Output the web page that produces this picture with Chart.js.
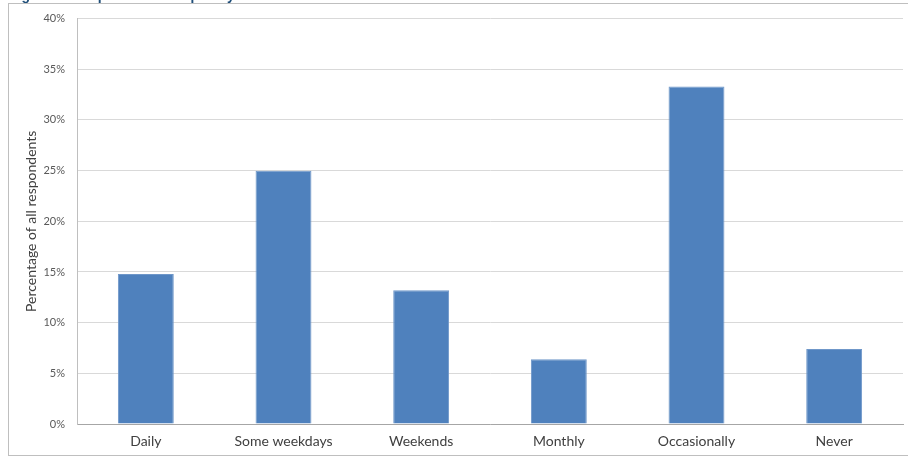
<!DOCTYPE html>
<html>
<head>
<meta charset="utf-8">
<script src="https://cdn.jsdelivr.net/npm/chart.js@4/dist/chart.umd.min.js"></script>
<style>
  html, body { margin: 0; padding: 0; background: #ffffff; }
  #wrap { width: 908px; height: 458px; position: relative; }
</style>
</head>
<body>
<div id="wrap"><canvas id="chart" width="908" height="458"></canvas></div>
<script>
// Survey answers: how often respondents use it
const categories = ['Daily', 'Some weekdays', 'Weekends', 'Monthly', 'Occasionally', 'Never'];
const shareOfRespondents = [14.8, 25.0, 13.2, 6.4, 33.3, 7.4];
const yTicks = [0, 5, 10, 15, 20, 25, 30, 35, 40];
const figureCaption = "Figure 5: Respondents' frequency";

const FONT = 'Lato, "Liberation Sans", sans-serif';

// Outer frame plus the caption line sitting just above it
const framePlugin = {
  id: 'frame',
  beforeDraw(chart) {
    const ctx = chart.ctx;
    ctx.save();
    ctx.fillStyle = '#ffffff';
    ctx.fillRect(0, 0, chart.width, chart.height);
    ctx.font = 'bold 14px "Liberation Sans", sans-serif';
    ctx.fillStyle = '#1F4E79';
    ctx.textBaseline = 'alphabetic';
    ctx.fillText(figureCaption, 9, -0.5);
    ctx.strokeStyle = '#BFBFBF';
    ctx.lineWidth = 1;
    ctx.strokeRect(8.5, 3.5, chart.width + 10, 452);
    ctx.restore();
  }
};

new Chart(document.getElementById('chart'), {
  type: 'bar',
  data: {
    labels: categories,
    datasets: [{
      data: shareOfRespondents,
      backgroundColor: '#4F81BD',
      borderColor: '#6F97C9',
      borderWidth: 1,
      barPercentage: 0.406,
      categoryPercentage: 1.0
    }]
  },
  options: {
    responsive: false,
    animation: false,
    devicePixelRatio: 1,
    layout: { padding: { left: 0, top: 16, right: 5, bottom: 0 } },
    plugins: {
      legend: { display: false },
      tooltip: { enabled: false }
    },
    scales: {
      x: {
        grid: { display: false, drawTicks: false },
        border: { color: '#A6A6A6', width: 1 },
        ticks: { color: '#404040', font: { family: FONT, size: 14 }, padding: 9, maxRotation: 0 },
        afterFit(scale) { scale.height = 34; }
      },
      y: {
        min: 0,
        max: 40,
        afterBuildTicks(scale) { scale.ticks = yTicks.map(v => ({ value: v })); },
        grid: { color: '#D9D9D9', lineWidth: 1, drawTicks: false },
        border: { color: '#BFBFBF', width: 1 },
        ticks: {
          color: '#595959',
          font: { family: FONT, size: 11 },
          padding: 12,
          callback: v => v + '%'
        },
        title: {
          display: true,
          text: 'Percentage of all respondents',
          color: '#404040',
          font: { family: FONT, size: 14 },
          padding: { top: 23, bottom: 0 }
        },
        afterFit(scale) { scale.width = 77; }
      }
    }
  },
  plugins: [framePlugin]
});
</script>
</body>
</html>
